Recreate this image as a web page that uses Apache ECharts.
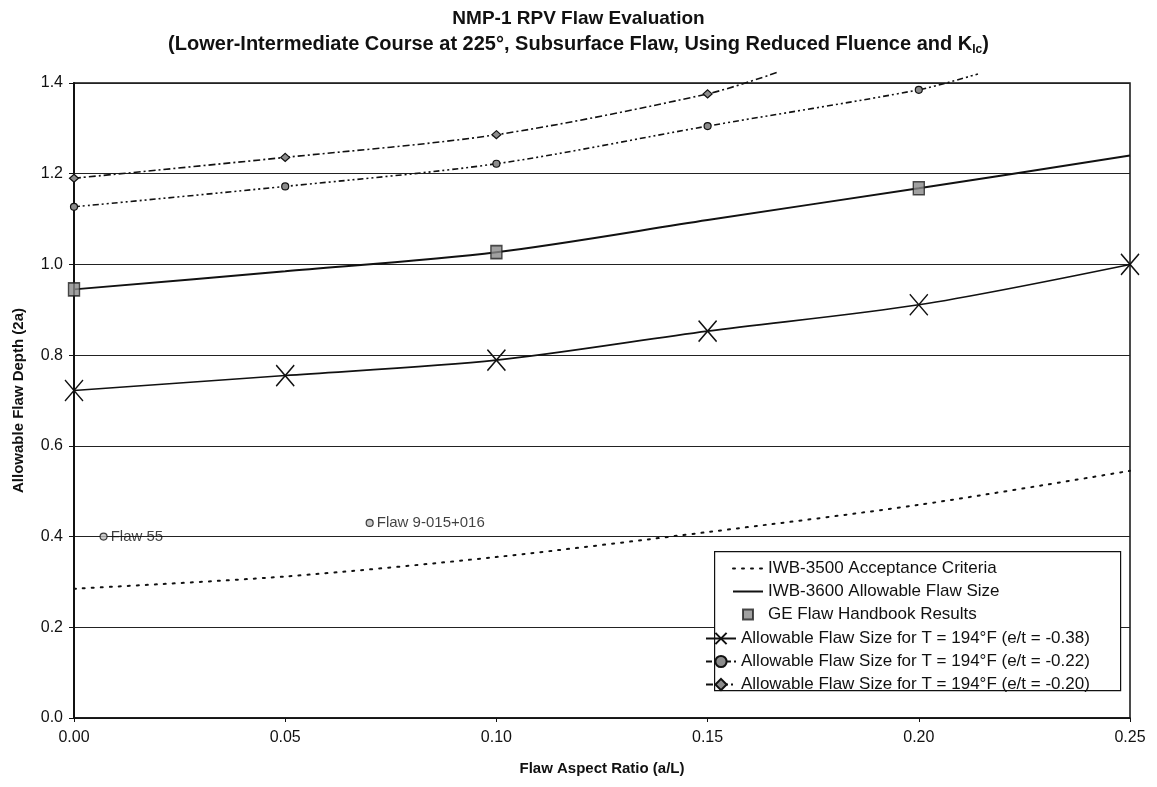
<!DOCTYPE html>
<html>
<head>
<meta charset="utf-8">
<script src="https://cdn.jsdelivr.net/npm/echarts@6/dist/echarts.min.js"></script>
<style>html,body{margin:0;padding:0;background:#fff}#c{width:1157px;height:787px}</style>
</head>
<body>
<div id="c"></div>
<script>
// ---- data ----
const xVals = [0.00, 0.05, 0.10, 0.15, 0.20, 0.25];
const yTicks = [0.0, 0.2, 0.4, 0.6, 0.8, 1.0, 1.2, 1.4];
const iwb3500 = [0.285, 0.312, 0.355, 0.410, 0.470, 0.545];
const iwb3600 = [0.945, 0.985, 1.027, 1.098, 1.168, 1.240];
const geX = [0.00, 0.10, 0.20];
const geY = [0.945, 1.027, 1.168];
const et38 = [0.722, 0.755, 0.789, 0.853, 0.911, 1.000];
const et22X = [0.00, 0.05, 0.10, 0.15, 0.20];
const et22 = [1.127, 1.172, 1.222, 1.305, 1.385];
const et22End = [0.214, 1.420];
const et20X = [0.00, 0.05, 0.10, 0.15];
const et20 = [1.190, 1.236, 1.286, 1.376];
const et20End = [0.167, 1.425];
const flawNames = ['Flaw 55', 'Flaw 9-015+016'];
const flawX = [0.007, 0.070];
const flawY = [0.400, 0.430];
const seriesNames = [
  'IWB-3500 Acceptance Criteria',
  'IWB-3600 Allowable Flaw Size',
  'GE Flaw Handbook Results',
  'Allowable Flaw Size for T = 194°F (e/t = -0.38)',
  'Allowable Flaw Size for T = 194°F (e/t = -0.22)',
  'Allowable Flaw Size for T = 194°F (e/t = -0.20)'
];
const titleLine1 = 'NMP-1 RPV Flaw Evaluation';
const titleLine2 = '(Lower-Intermediate Course at 225°, Subsurface Flaw, Using Reduced Fluence and K';

// ---- build ----
const FONT = '"Liberation Sans", Arial, sans-serif';
const zip = (xs, ys) => xs.map((x, i) => [x, ys[i]]);
const chart = echarts.init(document.getElementById('c'), null, {renderer: 'canvas'});
const markerStyle = {color: '#8c8c8c', borderColor: '#111', borderWidth: 1.2};
const legendText = {fontFamily: FONT, fontSize: 17, color: '#111'};

chart.setOption({
  backgroundColor: '#fff',
  animation: false,
  title: [
    {text: titleLine1, left: 'center', top: 4,
     textStyle: {fontFamily: FONT, fontSize: 19, fontWeight: 'bold', color: '#111'}},
    {text: '{b|' + titleLine2 + '}{s|Ic}{b|)}', left: 'center', top: 28,
     textStyle: {rich: {
       b: {fontFamily: FONT, fontSize: 20, fontWeight: 'bold', color: '#111'},
       s: {fontFamily: FONT, fontSize: 12, fontWeight: 'bold', color: '#111', padding: [11, 0, 0, 0]}
     }}}
  ],
  grid: {left: 74, right: 27, top: 83, bottom: 69, show: true, borderColor: '#111', borderWidth: 1.5, backgroundColor: 'transparent'},
  xAxis: {
    type: 'value', min: 0, max: 0.25, interval: 0.05,
    name: 'Flaw Aspect Ratio (a/L)', nameLocation: 'middle', nameGap: 43,
    nameTextStyle: {fontFamily: FONT, fontSize: 15, fontWeight: 'bold', color: '#111'},
    axisLine: {show: true, lineStyle: {color: '#111', width: 1.5}},
    axisTick: {show: true, inside: false, length: 4, lineStyle: {color: '#111'}},
    axisLabel: {fontFamily: FONT, fontSize: 16, color: '#111', margin: 12, formatter: v => v.toFixed(2)},
    splitLine: {show: false}
  },
  yAxis: {
    type: 'value', min: 0, max: 1.4, interval: 0.2,
    name: 'Allowable Flaw Depth (2a)', nameLocation: 'middle', nameGap: 48,
    nameTextStyle: {fontFamily: FONT, fontSize: 15, fontWeight: 'bold', color: '#111'},
    axisLine: {show: true, lineStyle: {color: '#111', width: 2}},
    axisTick: {show: true, inside: false, length: 5, lineStyle: {color: '#111'}},
    axisLabel: {fontFamily: FONT, fontSize: 16, color: '#111', margin: 11, formatter: v => v.toFixed(1)},
    splitLine: {show: true, lineStyle: {color: '#222', width: 1.2}}
  },
  legend: [
    {data: [
       {name: seriesNames[0], itemStyle: {opacity: 0}},
       {name: seriesNames[1], itemStyle: {opacity: 0}},
       {name: seriesNames[2], icon: 'path://M0,0h10v10h-10z'}
     ],
     orient: 'vertical', left: 727, top: 555, itemGap: 6,
     itemWidth: 30, itemHeight: 10, z: 6, textStyle: legendText},
    {data: seriesNames.slice(3), orient: 'vertical', left: 700, top: 625, itemGap: 6,
     itemWidth: 30, itemHeight: 14, z: 6, textStyle: legendText}
  ],
  graphic: [
    {type: 'rect', left: 714, top: 551, shape: {width: 406, height: 139}, z: 5,
     style: {fill: '#fff', stroke: '#111', lineWidth: 1.2}}
  ],
  series: [
    {name: seriesNames[0], type: 'line', data: zip(xVals, iwb3500), smooth: 0.3, symbol: 'none',
     lineStyle: {color: '#111', width: 2, type: [2, 7], cap: 'round'}, itemStyle: {color: '#111'}},
    {name: seriesNames[1], type: 'line', data: zip(xVals, iwb3600), smooth: 0.3, symbol: 'none',
     lineStyle: {color: '#111', width: 2}, itemStyle: {color: '#111'}},
    {name: seriesNames[2], type: 'scatter', data: zip(geX, geY), symbol: 'rect', symbolSize: [11, 13],
     itemStyle: {color: '#8a8a8a', borderColor: '#222', borderWidth: 1.5}, z: 4},
    {name: seriesNames[3], type: 'line', data: zip(xVals, et38), smooth: 0.3,
     symbol: 'path://M0,0L10,12M10,0L0,12', symbolSize: [18, 21],
     lineStyle: {color: '#111', width: 1.6},
     itemStyle: {color: 'rgba(0,0,0,0)', borderColor: '#111', borderWidth: 1.5}},
    {name: seriesNames[4], type: 'line', smooth: 0.3, clip: false,
     data: zip(et22X, et22).concat([{value: et22End, symbol: 'none'}]),
     symbol: 'circle', symbolSize: 7,
     lineStyle: {color: '#111', width: 1.6, type: [6, 3, 2, 3, 2, 3]}, itemStyle: markerStyle},
    {name: seriesNames[5], type: 'line', smooth: 0.3, clip: false,
     data: zip(et20X, et20).concat([{value: et20End, symbol: 'none'}]),
     symbol: 'diamond', symbolSize: [9, 8],
     lineStyle: {color: '#111', width: 1.6, type: [7, 3, 2, 3]}, itemStyle: markerStyle},
    {name: 'Flaws', type: 'scatter', data: flawX.map((x, i) => ({value: [x, flawY[i]], name: flawNames[i]})),
     symbol: 'circle', symbolSize: 7,
     itemStyle: {color: '#bbb', borderColor: '#111', borderWidth: 1.2},
     label: {show: true, position: 'right', distance: 3, formatter: p => p.name,
       fontFamily: FONT, fontSize: 15, color: '#111'}}
  ]
});
</script>
</body>
</html>
